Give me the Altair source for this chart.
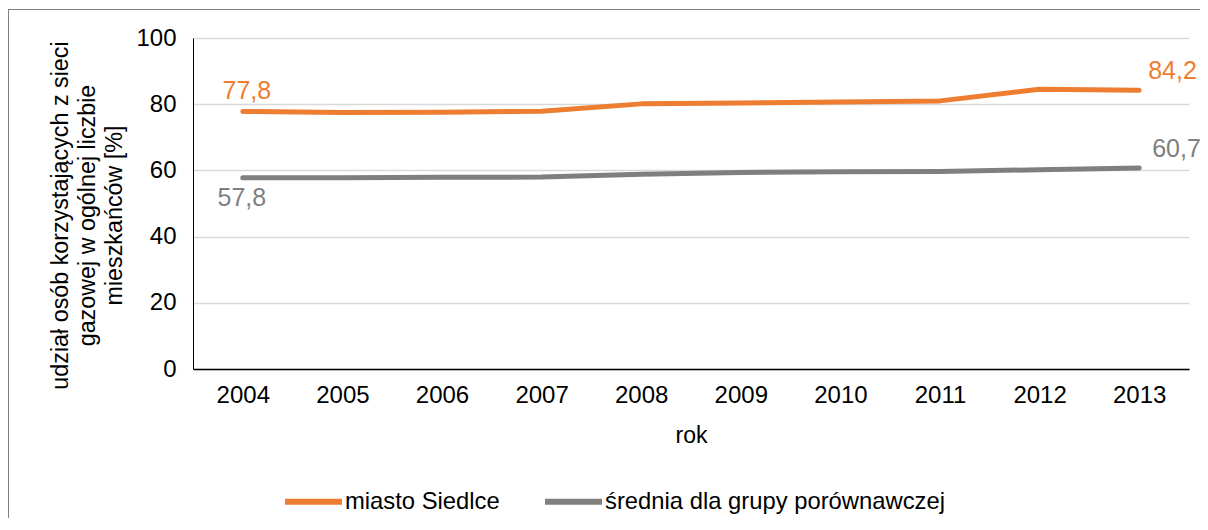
import altair as alt
import pandas as pd

years = ["2004", "2005", "2006", "2007", "2008", "2009", "2010", "2011", "2012", "2013"]
siedlce = [77.8, 77.5, 77.6, 77.9, 80.1, 80.4, 80.7, 81.0, 84.5, 84.2]
srednia = [57.8, 57.8, 57.9, 58.0, 58.8, 59.4, 59.6, 59.7, 60.2, 60.7]
series_names = ["miasto Siedlce", "średnia dla grupy porównawczej"]
series_colors = ["#ED7D31", "#7F7F7F"]
y_ticks = [0, 20, 40, 60, 80, 100]
y_title = ["udział osób korzystających z sieci", "gazowej w ogólnej liczbie", "mieszkańców [%]"]
x_title = "rok"

FONT = "Liberation Sans"

rows = []
for name, vals in zip(series_names, [siedlce, srednia]):
    for yr, v in zip(years, vals):
        rows.append({"rok": yr, "seria": name, "wartosc": v})
df = pd.DataFrame(rows)

x_enc = alt.X("rok:N", sort=years,
              axis=alt.Axis(title=x_title, labelAngle=0, ticks=False, tickSize=0,
                            labelPadding=14, titlePadding=17, domainColor="#000000",
                            domainWidth=1.6, grid=False))
y_enc = alt.Y("wartosc:Q", scale=alt.Scale(domain=[0, 100], nice=False),
              axis=alt.Axis(title=y_title, values=y_ticks, ticks=False, tickSize=0,
                            labelPadding=17, domainColor="#000000", domainWidth=1,
                            gridColor="#D9D9D9", gridWidth=1.3,
                            titleAngle=-90, titleAlign="center", titleBaseline="middle",
                            titleX=-133, titleY=177, titleLineHeight=27))

color_enc = alt.Color("seria:N",
                      scale=alt.Scale(domain=series_names, range=series_colors),
                      legend=alt.Legend(title=None, orient="none", direction="horizontal",
                                        legendX=89, legendY=432, symbolType="stroke",
                                        symbolSize=3249, symbolStrokeWidth=6,
                                        labelOffset=0, columnPadding=33, padding=0,
                                        labelFontSize=23.8, labelFont=FONT,
                                        labelColor="#000000", labelLimit=600))

lines = alt.Chart(df).mark_line(strokeWidth=5, strokeCap="round", strokeJoin="round").encode(
    x=x_enc, y=y_enc, color=color_enc
)

def label(year, value, color, dx, dy, align):
    d = pd.DataFrame({"rok": [year], "wartosc": [value],
                      "txt": [f"{value:.1f}".replace(".", ",")]})
    return alt.Chart(d).mark_text(font=FONT, fontSize=25, color=color, dx=dx, dy=dy,
                                  align=align, baseline="middle").encode(
        x=alt.X("rok:N", sort=years), y=alt.Y("wartosc:Q"), text="txt:N")

lab1 = label(years[0], siedlce[0], series_colors[0], 4, -20, "center")
lab2 = label(years[-1], siedlce[-1], series_colors[0], 9, -19, "left")
lab3 = label(years[-1], srednia[-1], series_colors[1], 13, -19, "left")
lab4 = label(years[0], srednia[0], series_colors[1], -1, 20, "center")

one = pd.DataFrame({"a": [0]})
frame_top = alt.Chart(one).mark_rule(stroke="#7F7F7F", strokeWidth=1).encode(
    x=alt.value(-185), x2=alt.value(1300), y=alt.value(-28.5))
frame_left = alt.Chart(one).mark_rule(stroke="#7F7F7F", strokeWidth=1).encode(
    x=alt.value(-184.5), y=alt.value(-29), y2=alt.value(700))

chart = alt.layer(frame_top, frame_left, lines, lab1, lab2, lab3, lab4).properties(
    width=996, height=331,
    autosize=alt.AutoSizeParams(type="none"),
    padding={"left": 185, "top": 30, "right": 11, "bottom": 149},
).configure_view(stroke=None).configure_axis(
    labelFont=FONT, titleFont=FONT, labelFontSize=24, titleFontSize=23,
    labelColor="#000000", titleColor="#000000", titleFontWeight="normal"
).configure_axisY(titleFontSize=23.3)

chart.save("out.html", embed_options={"renderer": "svg", "actions": False})
